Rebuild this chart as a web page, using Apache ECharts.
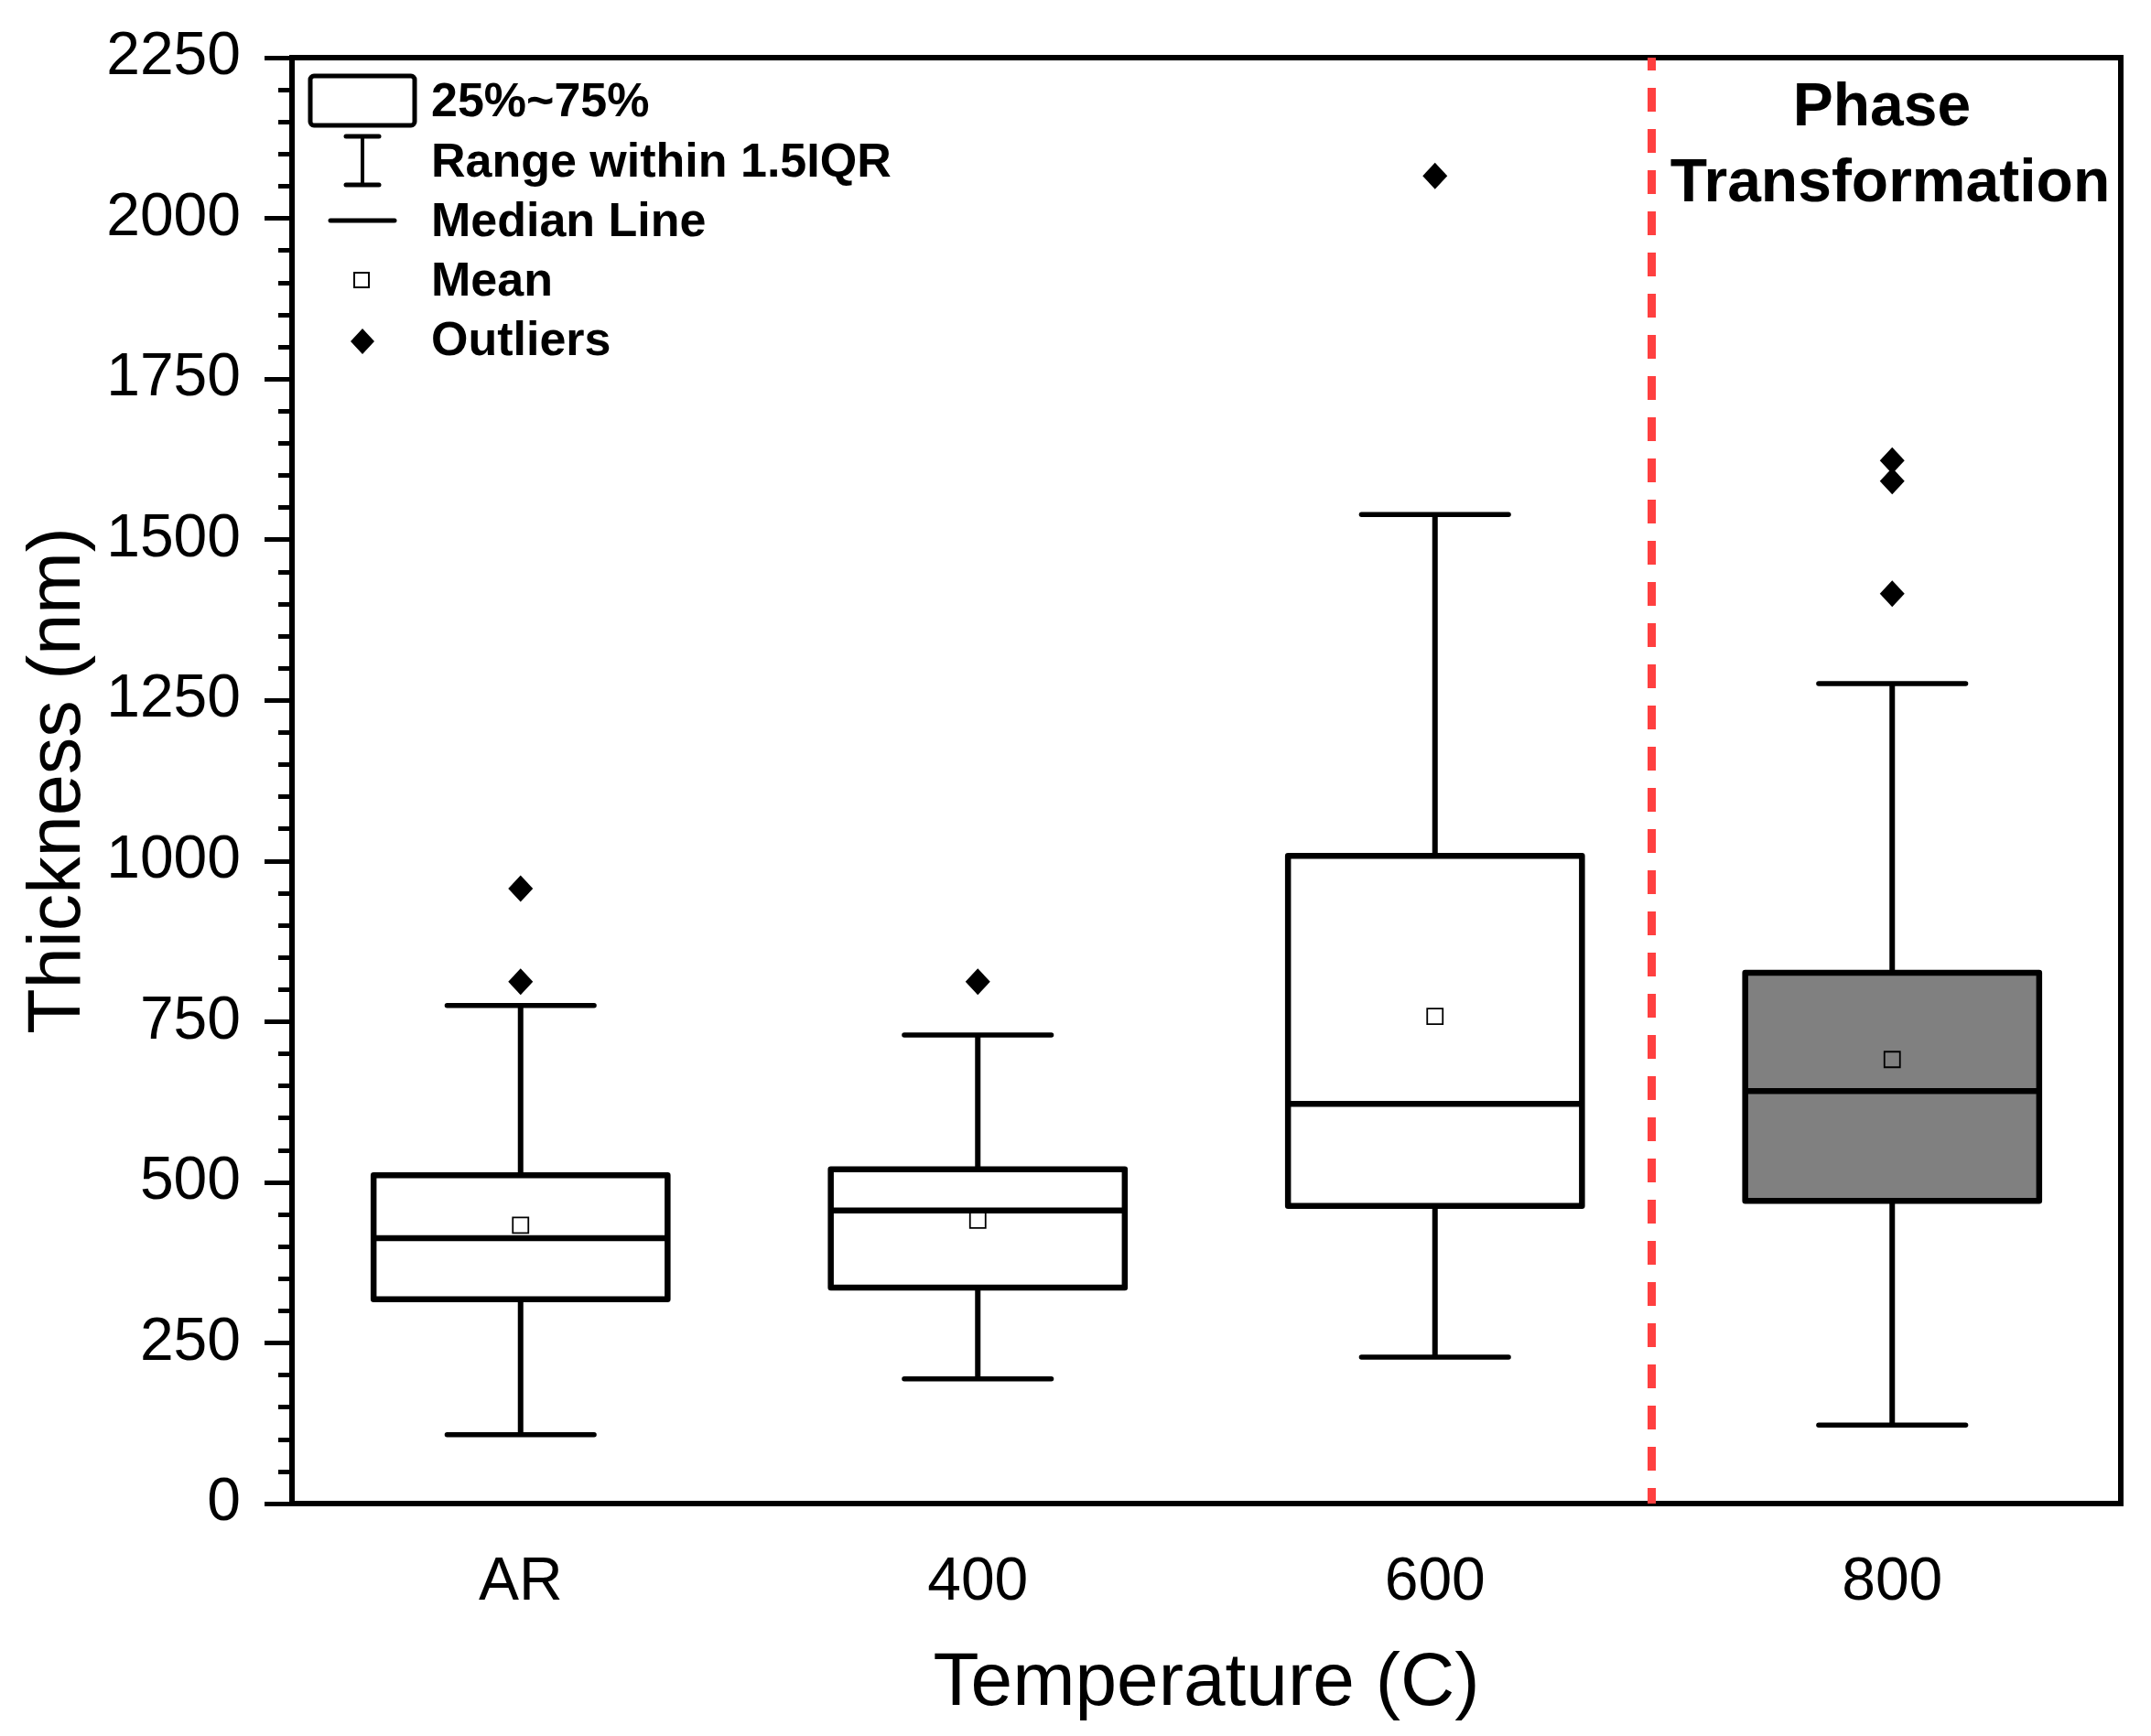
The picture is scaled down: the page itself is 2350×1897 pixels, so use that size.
<!DOCTYPE html>
<html>
<head>
<meta charset="utf-8">
<script src="https://cdn.jsdelivr.net/npm/echarts@6/dist/echarts.min.js"></script>
<style>
  html, body { margin: 0; padding: 0; background: #fff; }
  #chart { width: 2350px; height: 1897px; }
</style>
</head>
<body>
<div id="chart"></div>
<script>
// ---- Data ----
const categories   = ['AR', '400', '600', '800'];
const whiskerLow   = [107, 194, 228, 122];
const q1           = [318, 336, 463, 471];
const median       = [413, 456, 622, 642];
const q3           = [511, 520, 1008, 826];
const whiskerHigh  = [775, 729, 1539, 1276];
const means        = [433, 441, 758, 691];
const outlierCat   = [0, 0, 1, 2, 3, 3, 3];
const outlierVal   = [957, 812, 812, 2066, 1623, 1591, 1416];
const phaseBoundary = 2.474;   // position (in category-index units) of the dashed line
const yTicks = { min: 0, max: 2250, interval: 250 };

// ---- Styles ----
const boxFill = ['#ffffff', '#ffffff', '#ffffff', '#808080'];
const FONT = '"Liberation Sans", Arial, Helvetica, sans-serif';

const boxData = categories.map((c, i) => [i, whiskerLow[i], q1[i], median[i], q3[i], whiskerHigh[i]]);
const meanData = categories.map((c, i) => [i, means[i]]);
const outlierData = outlierCat.map((c, i) => [c, outlierVal[i]]);

const chart = echarts.init(document.getElementById('chart'), null, { renderer: 'canvas', devicePixelRatio: 1 });

const option = {
  animation: false,
  backgroundColor: '#ffffff',
  grid: {
    left: 319, right: 33, top: 63, bottom: 254,
    show: true, borderColor: '#000', borderWidth: 6, backgroundColor: 'transparent'
  },
  xAxis: [
    {
      type: 'category',
      data: categories,
      boundaryGap: true,
      name: 'Temperature (C)',
      nameLocation: 'middle',
      nameGap: 156,
      nameTextStyle: { fontSize: 82, color: '#000', fontFamily: FONT },
      axisLine: { onZero: false, lineStyle: { color: '#000', width: 6 } },
      axisTick: { alignWithLabel: true, length: 31, lineStyle: { color: '#000', width: 3 } },
      axisLabel: { fontSize: 66, color: '#000', fontFamily: FONT, margin: 54 },
      splitLine: { show: false }
    },
    {
      type: 'value',
      min: -0.5, max: 3.5,
      show: false
    }
  ],
  yAxis: {
    type: 'value',
    min: yTicks.min, max: yTicks.max, interval: yTicks.interval,
    name: 'Thickness (nm)',
    nameLocation: 'middle',
    nameGap: 208,
    nameRotate: 90,
    nameTextStyle: { fontSize: 81, color: '#000', fontFamily: FONT },
    axisLine: { show: true, onZero: false, lineStyle: { color: '#000', width: 6 } },
    axisTick: { show: true, length: 30, lineStyle: { color: '#000', width: 5 } },
    minorTick: { show: true, splitNumber: 5, length: 15, lineStyle: { color: '#000', width: 5 } },
    axisLabel: { fontSize: 66, color: '#000', fontFamily: FONT, margin: 56, formatter: v => String(v) },
    splitLine: { show: false },
    minorSplitLine: { show: false }
  },
  series: [
    {
      type: 'custom',
      name: 'box',
      xAxisIndex: 0,
      data: boxData,
      encode: { x: 0, y: [1, 2, 3, 4, 5] },
      z: 3,
      renderItem: function (params, api) {
        const idx = api.value(0);
        const band = api.size([1, 0])[0];
        const bw = band * 0.643;
        const cw = bw / 2;
        const xc = api.coord([idx, api.value(3)])[0];
        const yLow = api.coord([idx, api.value(1)])[1];
        const yQ1 = api.coord([idx, api.value(2)])[1];
        const yMed = api.coord([idx, api.value(3)])[1];
        const yQ3 = api.coord([idx, api.value(4)])[1];
        const yHigh = api.coord([idx, api.value(5)])[1];
        const lineStyle = { stroke: '#000', lineWidth: 6, fill: null };
        const capStyle = { stroke: '#000', lineWidth: 5.5, lineCap: 'round' };
        return {
          type: 'group',
          children: [
            { type: 'line', shape: { x1: xc, y1: yLow, x2: xc, y2: yQ1 }, style: lineStyle },
            { type: 'line', shape: { x1: xc, y1: yQ3, x2: xc, y2: yHigh }, style: lineStyle },
            { type: 'line', shape: { x1: xc - cw / 2, y1: yLow, x2: xc + cw / 2, y2: yLow }, style: capStyle },
            { type: 'line', shape: { x1: xc - cw / 2, y1: yHigh, x2: xc + cw / 2, y2: yHigh }, style: capStyle },
            { type: 'rect', shape: { x: xc - bw / 2, y: yQ3, width: bw, height: yQ1 - yQ3 },
              style: { fill: boxFill[params.dataIndex], stroke: '#000', lineWidth: 6.5, lineJoin: 'round' } },
            { type: 'line', shape: { x1: xc - bw / 2, y1: yMed, x2: xc + bw / 2, y2: yMed }, style: { stroke: '#000', lineWidth: 6.5 } }
          ]
        };
      }
    },
    {
      type: 'scatter',
      name: 'Mean',
      xAxisIndex: 0,
      data: meanData,
      symbol: 'rect',
      symbolSize: 17,
      z: 5,
      itemStyle: { color: 'rgba(0,0,0,0)', borderColor: '#000', borderWidth: 1.8, opacity: 1 }
    },
    {
      type: 'scatter',
      name: 'Outliers',
      xAxisIndex: 0,
      data: outlierData,
      symbol: 'diamond',
      symbolSize: [27, 29],
      z: 5,
      itemStyle: { color: '#000', opacity: 1 }
    },
    {
      type: 'line',
      name: 'phase',
      xAxisIndex: 1,
      data: [[phaseBoundary, yTicks.max], [phaseBoundary, yTicks.min]],
      symbol: 'none',
      z: 2,
      lineStyle: { color: '#ff4040', width: 9, type: [26, 19], dashOffset: 12 }
    }
  ],
  graphic: [
    // Legend
    { type: 'rect', shape: { x: 339, y: 83, width: 114, height: 54, r: 4 },
      style: { fill: '#fff', stroke: '#000', lineWidth: 5 } },
    { type: 'line', shape: { x1: 396, y1: 149, x2: 396, y2: 202 }, style: { stroke: '#000', lineWidth: 4 } },
    { type: 'line', shape: { x1: 378, y1: 149, x2: 414, y2: 149 }, style: { stroke: '#000', lineWidth: 5, lineCap: 'round' } },
    { type: 'line', shape: { x1: 378, y1: 202, x2: 414, y2: 202 }, style: { stroke: '#000', lineWidth: 5, lineCap: 'round' } },
    { type: 'line', shape: { x1: 361, y1: 241, x2: 431, y2: 241 }, style: { stroke: '#000', lineWidth: 5, lineCap: 'round' } },
    { type: 'rect', shape: { x: 387, y: 298, width: 16, height: 16 }, style: { fill: '#fff', stroke: '#000', lineWidth: 2 } },
    { type: 'polygon', shape: { points: [[396, 359], [409, 373], [396, 387], [383, 373]] }, style: { fill: '#000' } },
    { type: 'text', style: { x: 471, y: 113, text: '25%~75%', font: 'bold 52px ' + FONT, fill: '#000', verticalAlign: 'middle' } },
    { type: 'text', style: { x: 471, y: 179, text: 'Range within 1.5IQR', font: 'bold 52px ' + FONT, fill: '#000', verticalAlign: 'middle' } },
    { type: 'text', style: { x: 471, y: 244, text: 'Median Line', font: 'bold 52px ' + FONT, fill: '#000', verticalAlign: 'middle' } },
    { type: 'text', style: { x: 471, y: 309, text: 'Mean', font: 'bold 52px ' + FONT, fill: '#000', verticalAlign: 'middle' } },
    { type: 'text', style: { x: 471, y: 374, text: 'Outliers', font: 'bold 52px ' + FONT, fill: '#000', verticalAlign: 'middle' } },
    // Region annotation
    { type: 'text', style: { x: 2056, y: 119, text: 'Phase', font: 'bold 66px ' + FONT, fill: '#000', align: 'center', verticalAlign: 'middle' } },
    { type: 'text', style: { x: 2065, y: 202, text: 'Transformation', font: 'bold 66px ' + FONT, fill: '#000', align: 'center', verticalAlign: 'middle' } }
  ]
};

chart.setOption(option);
</script>
</body>
</html>
